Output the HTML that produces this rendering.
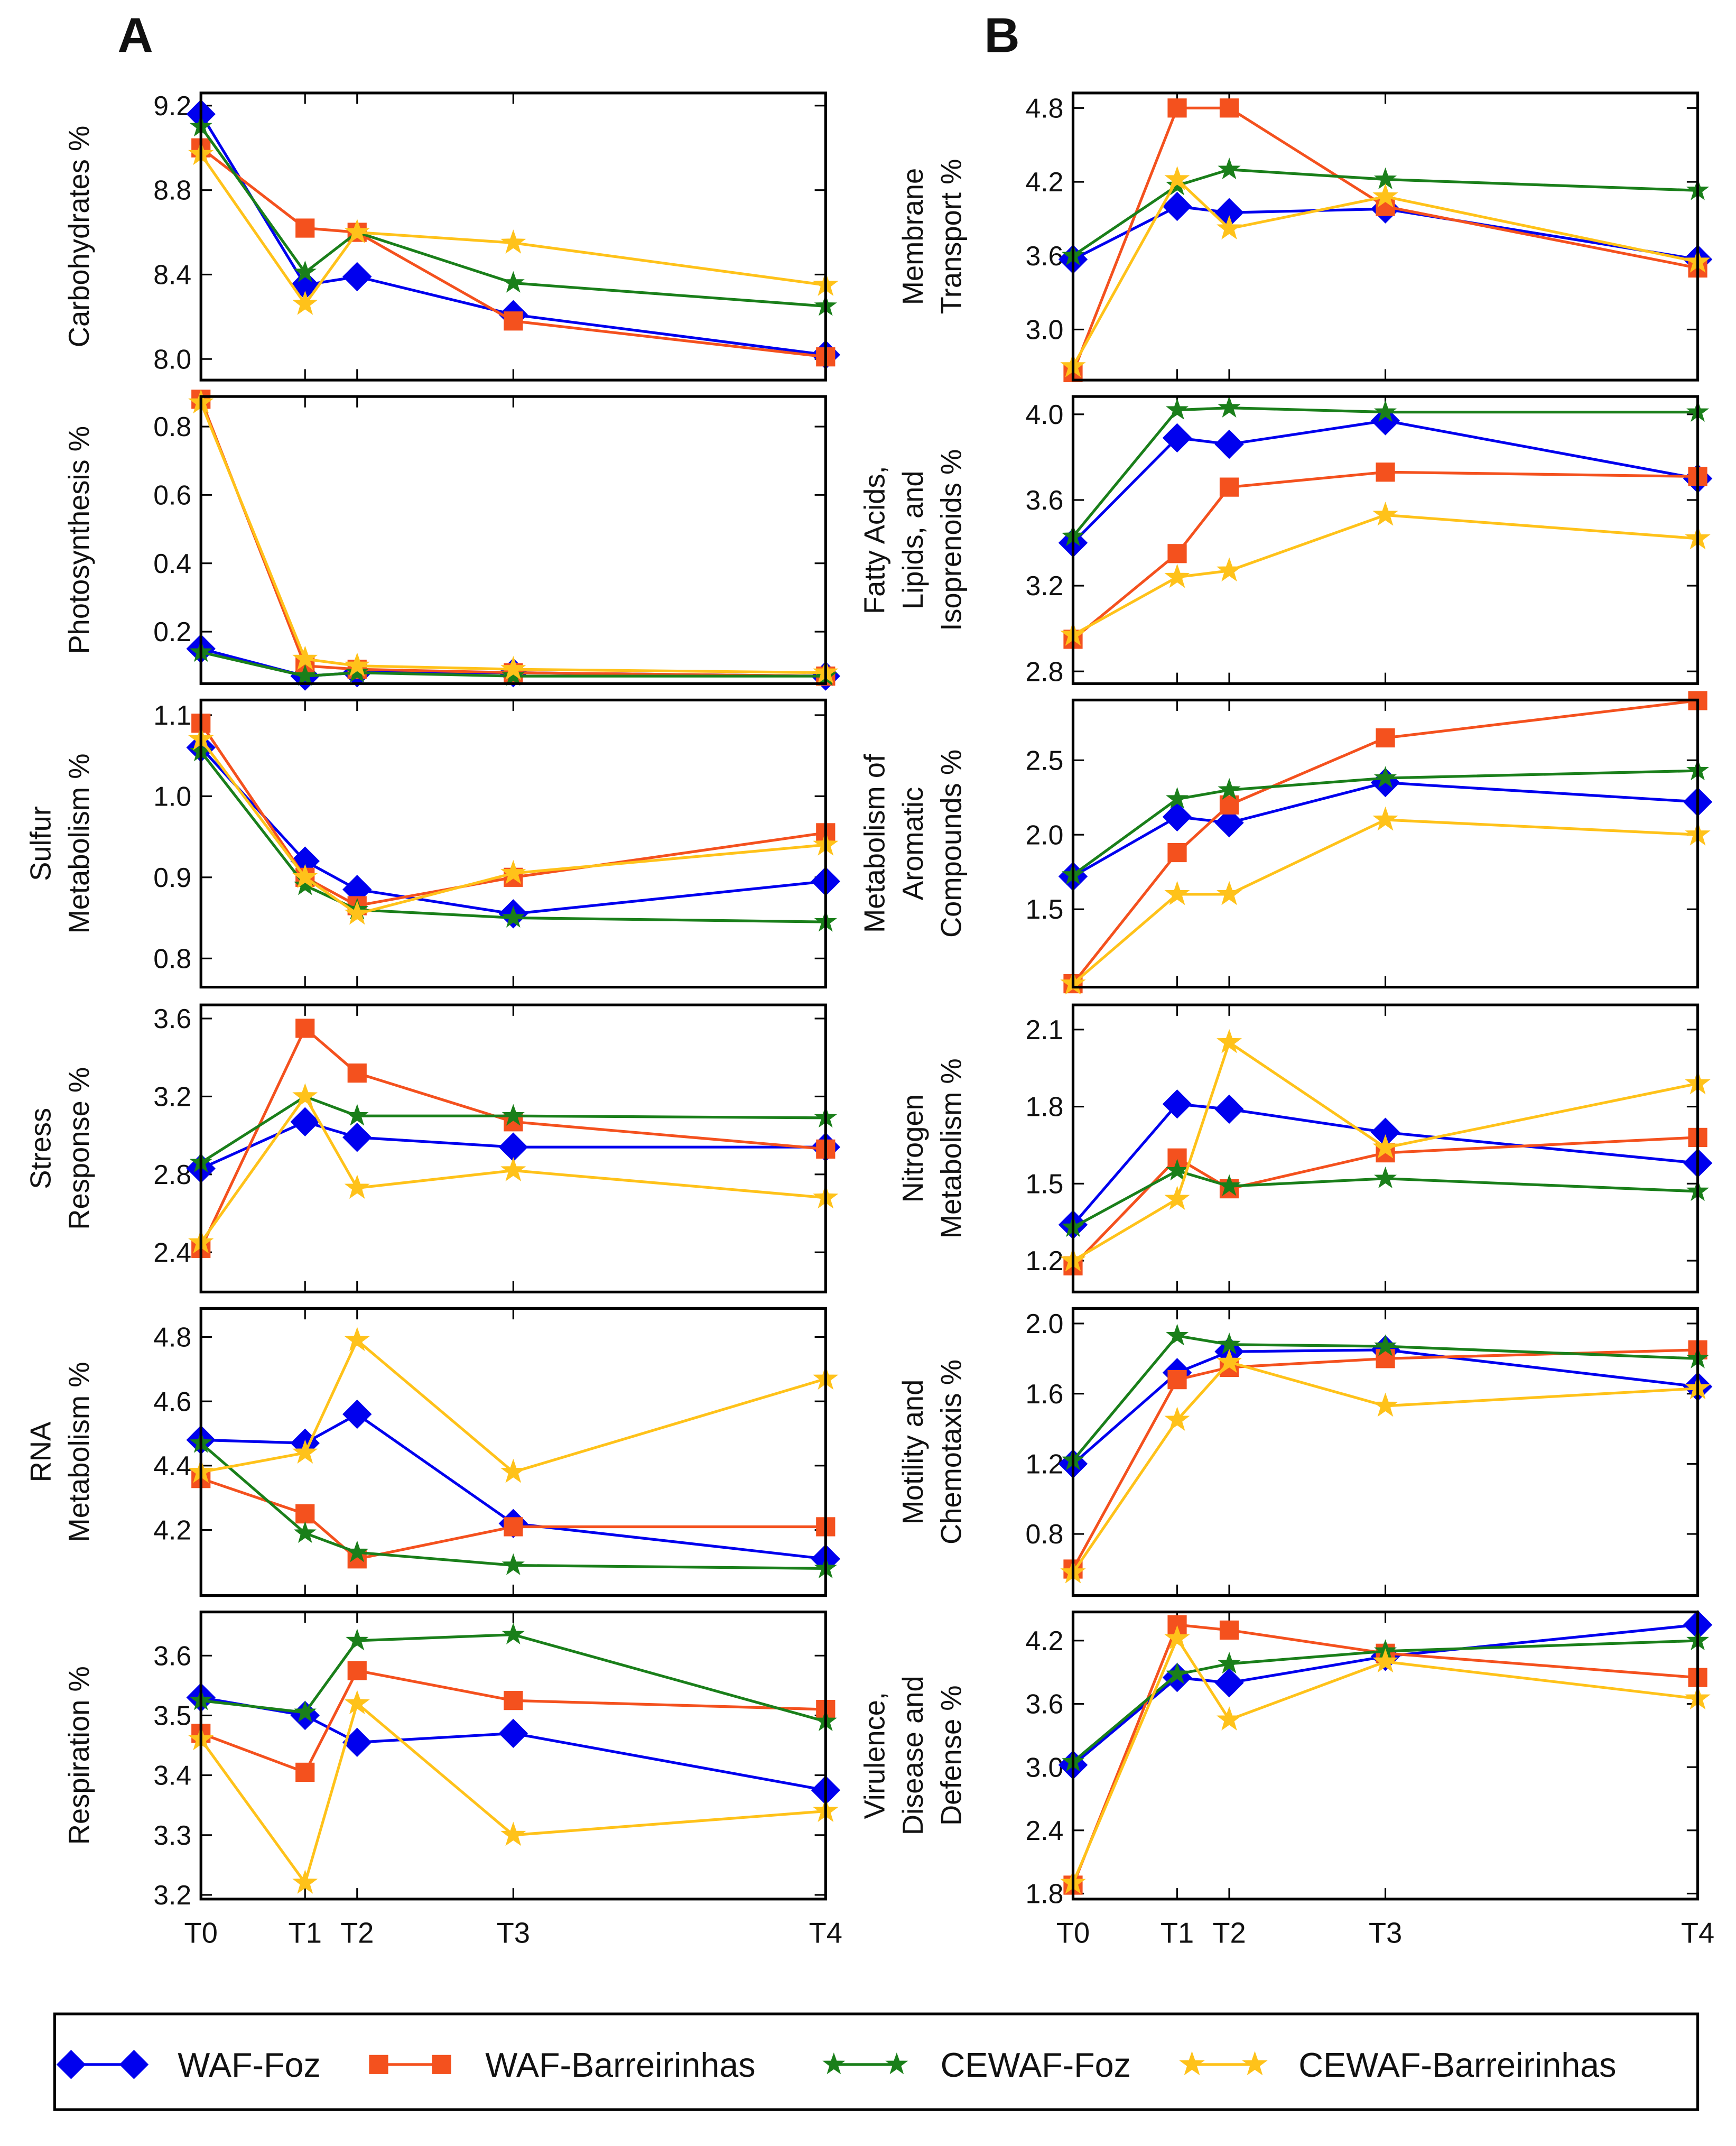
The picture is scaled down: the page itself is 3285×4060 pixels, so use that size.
<!DOCTYPE html>
<html><head><meta charset="utf-8"><title>Functional categories over time</title>
<style>html,body{margin:0;padding:0;background:#fff}svg{display:block}text{font-family:"Liberation Sans","DejaVu Sans",sans-serif;fill:#111}</style>
</head><body>
<svg id="fig" xmlns="http://www.w3.org/2000/svg" width="3285" height="4060" viewBox="0 0 1270 1569.6"></svg>
<script>
const timeCats = ["T0","T1","T2","T3","T4"];
const timeVals = [0,1,1.5,3,6];
const seriesNames = ["WAF-Foz","WAF-Barreirinhas","CEWAF-Foz","CEWAF-Barreirinhas"];
const carbWF=[9.16,8.35,8.39,8.21,8.02], carbWB=[9.0,8.62,8.6,8.18,8.01], carbCF=[9.1,8.41,8.6,8.36,8.25], carbCB=[8.97,8.26,8.6,8.55,8.35];
const photWF=[0.15,0.07,0.08,0.08,0.07], photWB=[0.88,0.1,0.09,0.08,0.07], photCF=[0.14,0.07,0.08,0.07,0.07], photCB=[0.87,0.12,0.1,0.09,0.08];
const sulfWF=[1.06,0.92,0.885,0.855,0.895], sulfWB=[1.09,0.9,0.865,0.9,0.955], sulfCF=[1.055,0.89,0.86,0.85,0.845], sulfCB=[1.07,0.9,0.855,0.905,0.94];
const strWF=[2.83,3.07,2.99,2.94,2.94], strWB=[2.42,3.55,3.32,3.07,2.93], strCF=[2.86,3.2,3.1,3.1,3.09], strCB=[2.45,3.2,2.73,2.82,2.68];
const rnaWF=[4.48,4.47,4.56,4.22,4.11], rnaWB=[4.36,4.25,4.11,4.21,4.21], rnaCF=[4.47,4.19,4.13,4.09,4.08], rnaCB=[4.38,4.44,4.79,4.38,4.67];
const resWF=[3.53,3.5,3.455,3.47,3.375], resWB=[3.47,3.405,3.575,3.525,3.51], resCF=[3.525,3.505,3.625,3.635,3.49], resCB=[3.46,3.22,3.52,3.3,3.34];
const memWF=[3.57,4.0,3.95,3.98,3.57], memWB=[2.65,4.8,4.8,4.0,3.5], memCF=[3.6,4.17,4.3,4.22,4.13], memCB=[2.7,4.22,3.82,4.08,3.55];
const fatWF=[3.4,3.89,3.86,3.97,3.7], fatWB=[2.95,3.35,3.66,3.73,3.71], fatCF=[3.43,4.02,4.03,4.01,4.01], fatCB=[2.97,3.24,3.27,3.53,3.42];
const aroWF=[1.72,2.12,2.08,2.35,2.22], aroWB=[1.0,1.88,2.2,2.65,2.9], aroCF=[1.73,2.24,2.3,2.38,2.43], aroCB=[1.0,1.6,1.6,2.1,2.0];
const nitWF=[1.34,1.81,1.79,1.7,1.58], nitWB=[1.18,1.6,1.48,1.62,1.68], nitCF=[1.33,1.55,1.49,1.52,1.47], nitCB=[1.2,1.44,2.05,1.64,1.89];
const motWF=[1.2,1.72,1.84,1.85,1.64], motWB=[0.6,1.68,1.75,1.8,1.85], motCF=[1.22,1.93,1.88,1.87,1.8], motCB=[0.58,1.45,1.78,1.53,1.63];
const virWF=[3.02,3.85,3.8,4.05,4.35], virWB=[1.88,4.35,4.3,4.08,3.85], virCF=[3.05,3.88,3.98,4.1,4.2], virCB=[1.9,4.22,3.45,4.0,3.65];
const carbTicks=["8.0","8.4","8.8","9.2"], photTicks=["0.2","0.4","0.6","0.8"], sulfTicks=["0.8","0.9","1.0","1.1"];
const strTicks=["2.4","2.8","3.2","3.6"], rnaTicks=["4.2","4.4","4.6","4.8"], resTicks=["3.2","3.3","3.4","3.5","3.6"];
const memTicks=["3.0","3.6","4.2","4.8"], fatTicks=["2.8","3.2","3.6","4.0"], aroTicks=["1.5","2.0","2.5"];
const nitTicks=["1.2","1.5","1.8","2.1"], motTicks=["0.8","1.2","1.6","2.0"], virTicks=["1.8","2.4","3.0","3.6","4.2"];

const NS="http://www.w3.org/2000/svg";
const svg=document.getElementById('fig');
function mk(tag,attrs,parent){const e=document.createElementNS(NS,tag);for(const k in attrs)e.setAttribute(k,attrs[k]);(parent||svg).appendChild(e);return e;}
const colors=["#0000ee","#f4511e","#1a7f1a","#ffc21a"];
const rowsY=[68,290,512,735,957,1179], PH=210, PW=457;
const panels=[
 {col:0,row:0,key:"carbohydrates",lab:["Carbohydrates %"],lo:7.9,hi:9.26,t:carbTicks,d:[carbWF,carbWB,carbCF,carbCB]},
 {col:0,row:1,key:"photosynthesis",lab:["Photosynthesis %"],lo:0.048,hi:0.888,t:photTicks,d:[photWF,photWB,photCF,photCB]},
 {col:0,row:2,key:"sulfur",lab:["Sulfur","Metabolism %"],lo:0.7646,hi:1.1186,t:sulfTicks,d:[sulfWF,sulfWB,sulfCF,sulfCB]},
 {col:0,row:3,key:"stress",lab:["Stress","Response %"],lo:2.196,hi:3.67,t:strTicks,d:[strWF,strWB,strCF,strCB]},
 {col:0,row:4,key:"rna",lab:["RNA","Metabolism %"],lo:3.996,hi:4.889,t:rnaTicks,d:[rnaWF,rnaWB,rnaCF,rnaCB]},
 {col:0,row:5,key:"respiration",lab:["Respiration %"],lo:3.193,hi:3.673,t:resTicks,d:[resWF,resWB,resCF,resCB]},
 {col:1,row:0,key:"membrane",lab:["Membrane","Transport %"],lo:2.589,hi:4.922,t:memTicks,d:[memWF,memWB,memCF,memCB]},
 {col:1,row:1,key:"fatty-acids",lab:["Fatty Acids,","Lipids, and","Isoprenoids %"],lo:2.743,hi:4.083,t:fatTicks,d:[fatWF,fatWB,fatCF,fatCB]},
 {col:1,row:2,key:"aromatic",lab:["Metabolism of","Aromatic","Compounds %"],lo:0.977,hi:2.904,t:aroTicks,d:[aroWF,aroWB,aroCF,aroCB]},
 {col:1,row:3,key:"nitrogen",lab:["Nitrogen","Metabolism %"],lo:1.078,hi:2.196,t:nitTicks,d:[nitWF,nitWB,nitCF,nitCB]},
 {col:1,row:4,key:"motility",lab:["Motility and","Chemotaxis %"],lo:0.449,hi:2.086,t:motTicks,d:[motWF,motWB,motCF,motCB]},
 {col:1,row:5,key:"virulence",lab:["Virulence,","Disease and","Defense %"],lo:1.748,hi:4.472,t:virTicks,d:[virWF,virWB,virCF,virCB]}
];
function marker(k,x,y,g){
 let e;
 if(k===0){e=mk('polygon',{points:`${x},${y-10} ${x+10},${y} ${x},${y+10} ${x-10},${y}`,fill:colors[0],stroke:colors[0]},g);}
 else if(k===1){e=mk('rect',{x:x-7,y:y-7,width:14,height:14,fill:colors[1]},g);}
 else{const r=k===2?8:9;let p=[];for(let i=0;i<10;i++){const a=-Math.PI/2+i*Math.PI/5,rr=i%2?r*0.4:r;p.push((x+rr*Math.cos(a)).toFixed(1)+','+(y+rr*Math.sin(a)).toFixed(1));}
  e=mk('polygon',{points:p.join(' '),fill:colors[k],stroke:colors[k],'stroke-width':0.5},g);}
 return e;
}
const la=mk('text',{x:86,y:38,'font-size':36,'font-weight':'bold'});la.textContent='A';


const lb=mk('text',{x:720,y:38,'font-size':36,'font-weight':'bold'});lb.textContent='B';



panels.forEach(p=>{
 const x0=p.col?785:147, y0=rowsY[p.row];
 const g=mk('g',{});
 
 
 const sx=v=>x0+v/6*PW;
 const sy=v=>y0+PH-(v-p.lo)/(p.hi-p.lo)*PH;
 p.t.forEach(tl=>{const y=sy(parseFloat(tl));
  mk('line',{x1:x0,x2:x0+8,y1:y,y2:y,stroke:'#000','stroke-width':1.2},g);
  mk('line',{x1:x0+PW-8,x2:x0+PW,y1:y,y2:y,stroke:'#000','stroke-width':1.2},g);
  const t=mk('text',{x:x0-7,y:y+7,'font-size':20,'text-anchor':'end'},g);t.textContent=tl;
  
  
 });
 timeVals.forEach(v=>{const x=sx(v);
  mk('line',{x1:x,x2:x,y1:y0,y2:y0+8,stroke:'#000','stroke-width':1.2},g);
  mk('line',{x1:x,x2:x,y1:y0+PH-8,y2:y0+PH,stroke:'#000','stroke-width':1.2},g);
 });
 const cg=mk('g',{},g);
 p.d.forEach((arr,k)=>{
  const pts=arr.map((v,i)=>sx(timeVals[i]).toFixed(1)+','+sy(v).toFixed(1)).join(' ');
  const pl=mk('polyline',{points:pts,fill:'none',stroke:colors[k],'stroke-width':2},cg);
  
  
  arr.forEach((v,i)=>{const m=marker(k,sx(timeVals[i]),sy(v),cg);
   
   });
 });
 const fr=mk('rect',{x:x0,y:y0,width:PW,height:PH,fill:'none',stroke:'#000','stroke-width':2},g);
 
 
 const n=p.lab.length, cx=x0-82, cy=y0+PH/2;
 const yl=mk('text',{transform:`translate(${cx},${cy}) rotate(-90)`,'font-size':21,'text-anchor':'middle'},g);
 
 
 p.lab.forEach((s,i)=>{const ts=mk('tspan',{x:0,y:(i-(n-1))*28},yl);ts.textContent=s;});
 if(p.row===5){timeCats.forEach((c,i)=>{const t=mk('text',{x:sx(timeVals[i]),y:y0+PH+32,'font-size':21,'text-anchor':'middle'},g);t.textContent=c;
  
  });}
});
const lg=mk('g',{});


mk('rect',{x:40,y:1473,width:1202,height:70,fill:'#fff',stroke:'#000','stroke-width':2},lg);
const lx=[50,275,608,870];
seriesNames.forEach((s,k)=>{
 const e=mk('g',{},lg);
 
 
 const y=1510,x=lx[k];
 mk('line',{x1:x,x2:x+50,y1:y,y2:y,stroke:colors[k],'stroke-width':2},e);
 marker(k,x+2,y,e);marker(k,x+48,y,e);
 const t=mk('text',{x:x+80,y:y+9,'font-size':25},e);t.textContent=s;
});
</script>
</body></html>
